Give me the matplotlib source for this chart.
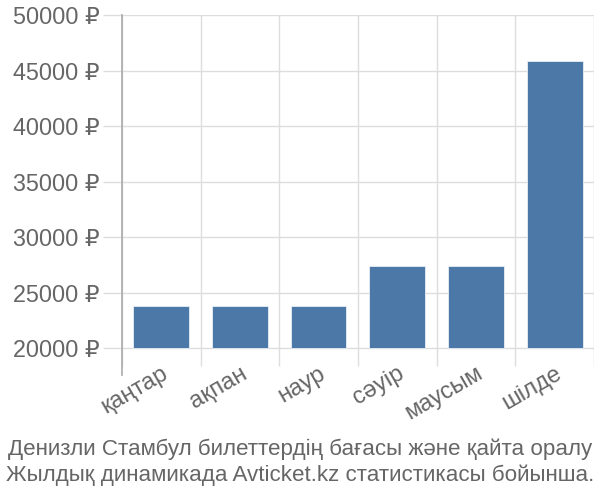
import matplotlib.pyplot as plt

months = ["қаңтар", "ақпан", "наур", "сәуір", "маусым", "шілде"]
prices = [23800, 23800, 23800, 27400, 27400, 45900]
yticks = [20000, 25000, 30000, 35000, 40000, 45000, 50000]
caption = ("Денизли Стамбул билеттердің бағасы және қайта оралу\n"
           "Жылдық динамикада Avticket.kz статистикасы бойынша.")

plt.rcParams['font.family'] = ['Liberation Sans', 'DejaVu Sans']

fig = plt.figure(figsize=(6, 5), dpi=100)
ax = fig.add_axes([0.203, 0.25, 0.787, 0.72])

base = yticks[0]
x = list(range(len(months)))
ax.bar(x, [p - base for p in prices], bottom=base, width=0.71,
       color="#4c78a8", edgecolor="#e8eef5", linewidth=0.6, zorder=3)

ax.set_xlim(-0.5, len(months) - 0.5)
ax.set_ylim(17600, 50000)
ax.set_yticks(yticks)
ax.set_yticklabels([f"{v} ₽" for v in yticks])
ax.tick_params(axis="y", length=14, width=1, color="#dddddd", pad=2,
               labelsize=16.8, labelcolor="#666666")
for v in yticks:
    ax.axhline(v, color="#dddddd", linewidth=1, zorder=1)

for b in range(len(months) + 1):
    ax.vlines(b - 0.5, 18400, 50000, color="#dddddd", linewidth=1, zorder=1)

ax.set_xticks(x)
ax.set_xticklabels(months, rotation=30, ha="right", va="top",
                   rotation_mode="anchor")
ax.tick_params(axis="x", length=0, pad=-9, labelsize=17, labelcolor="#666666")

for side in ["top", "right", "bottom"]:
    ax.spines[side].set_visible(False)
ax.spines["left"].set_color("#aaaaaa")
ax.spines["left"].set_linewidth(1.2)

fig.text(0.5, 0.028, caption, ha="center", va="bottom", fontsize=16.1,
         color="#666666", linespacing=1.28,
         family=["Liberation Sans Narrow", "Liberation Sans", "DejaVu Sans"])

fig.savefig("out.png", dpi=100)
